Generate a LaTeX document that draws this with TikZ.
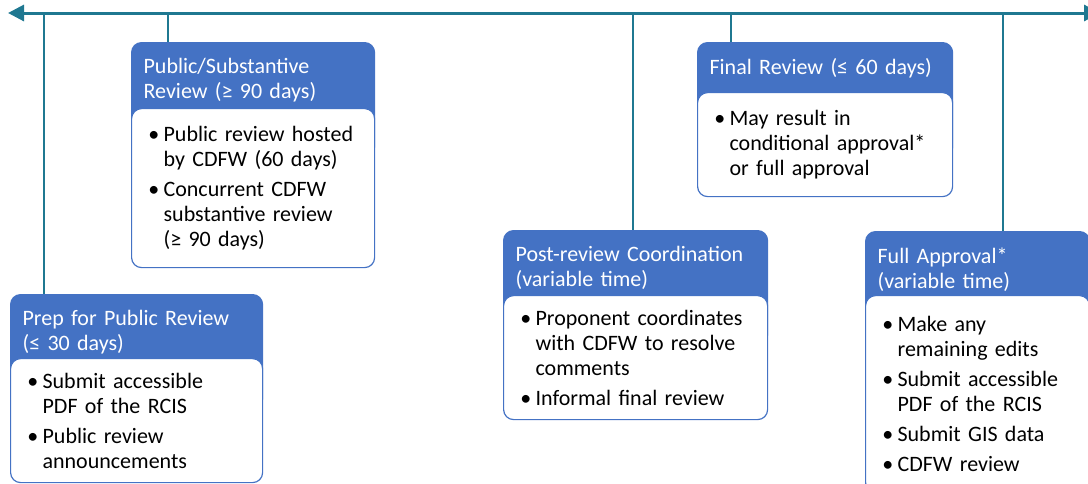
\documentclass[tikz,border=0pt]{standalone}
\usepackage{fontspec}
\setmainfont{Carlito}
\usetikzlibrary{arrows.meta}
\definecolor{hdblue}{HTML}{4472C4}
\definecolor{lineteal}{RGB}{31,120,145}
\newcommand{\bitem}[1]{\parskip=3.75pt\hangindent=9pt\hangafter=1\noindent\hbox to 9pt{\hskip-2.5pt\textbullet\hfil}#1\par}
\begin{document}
\begin{tikzpicture}[
  x=0.75pt, y=-0.75pt,
  headbox/.style={rectangle, draw=hdblue, fill=hdblue, line width=0.9pt, rounded corners=7.5pt, anchor=north west, align=left, inner xsep=9pt, inner ysep=12pt, text depth=50pt, text=white, font=\fontsize{16.5pt}{18.75pt}\selectfont},
  bodybox/.style={rectangle, draw=hdblue, fill=white, line width=0.9pt, rounded corners=7.5pt, anchor=north west, align=left, inner xsep=15pt, inner ysep=0pt, font=\fontsize{16.5pt}{18.75pt}\selectfont},
  timeline/.style={{Triangle[length=12pt,width=12pt]}-{Triangle[length=12pt,width=12pt]}, line width=2.25pt, lineteal},
  stem/.style={line width=1.9pt, lineteal}
]
  \useasboundingbox (0,0) rectangle (1088,483);
  \clip (0,0) rectangle (1088,483);

  % Timeline (top)
  \coordinate (tl) at (8,13);
  \coordinate (tr) at (1100,13);
  \coordinate (t1) at (44,13);
  \coordinate (t2) at (168,13);
  \coordinate (t3) at (633,13);
  \coordinate (t4) at (731,13);
  \coordinate (t5) at (1003,13);

  % Prep for public review
  \node[headbox, text width=171pt] (prephead) at (10,294) {Prep for Public Review\\(≤ 30 days)};
  \node[bodybox, text width=159pt, minimum height=93pt] (prepbody) at (10,358) {\bitem{Submit accessible\newline PDF of the RCIS}\bitem{Public review\newline announcements}};

  % Public/substantive review
  \node[headbox, text width=164.25pt] (pubhead) at (131,42) {Public/Substantive\\Review (≥ 90 days)};
  \node[bodybox, text width=152.25pt, minimum height=119.25pt] (pubbody) at (131,108) {\bitem{Public review hosted\newline by CDFW (60 days)}\bitem{Concurrent CDFW\newline substantive review\newline (≥ 90 days)}};

  % Post-review coordination
  \node[headbox, text width=180pt] (posthead) at (503,230) {Post-review Coordination\\(variable time)};
  \node[bodybox, text width=168pt, minimum height=93pt] (postbody) at (503,295) {\bitem{Proponent coordinates\newline with CDFW to resolve\newline comments}\bitem{Informal final review}};

  % Final review
  \node[headbox, text width=173.25pt] (finhead) at (697,42) {Final Review (≤ 60 days)};
  \node[bodybox, text width=161.25pt, minimum height=78pt] (finbody) at (697,92) {\bitem{May result in\newline conditional approval*\newline or full approval}};

  % Full approval
  \node[headbox, text width=150pt] (fullhead) at (865,231) {Full Approval*\\(variable time)};
  \node[bodybox, text width=138pt, minimum height=147.75pt] (fullbody) at (865,295) {\bitem{Make any\newline remaining edits}\bitem{Submit accessible\newline PDF of the RCIS}\bitem{Submit GIS data}\bitem{CDFW review}};

  % Stems
  \draw[stem] (t1) -- (t1 |- prephead.north);
  \draw[stem] (t2) -- (t2 |- pubhead.north);
  \draw[stem] (t3) -- (t3 |- posthead.north);
  \draw[stem] (t4) -- (t4 |- finhead.north);
  \draw[stem] (t5) -- (t5 |- fullhead.north);
  \draw[timeline] (tl) -- (tr);
\end{tikzpicture}
\end{document}
